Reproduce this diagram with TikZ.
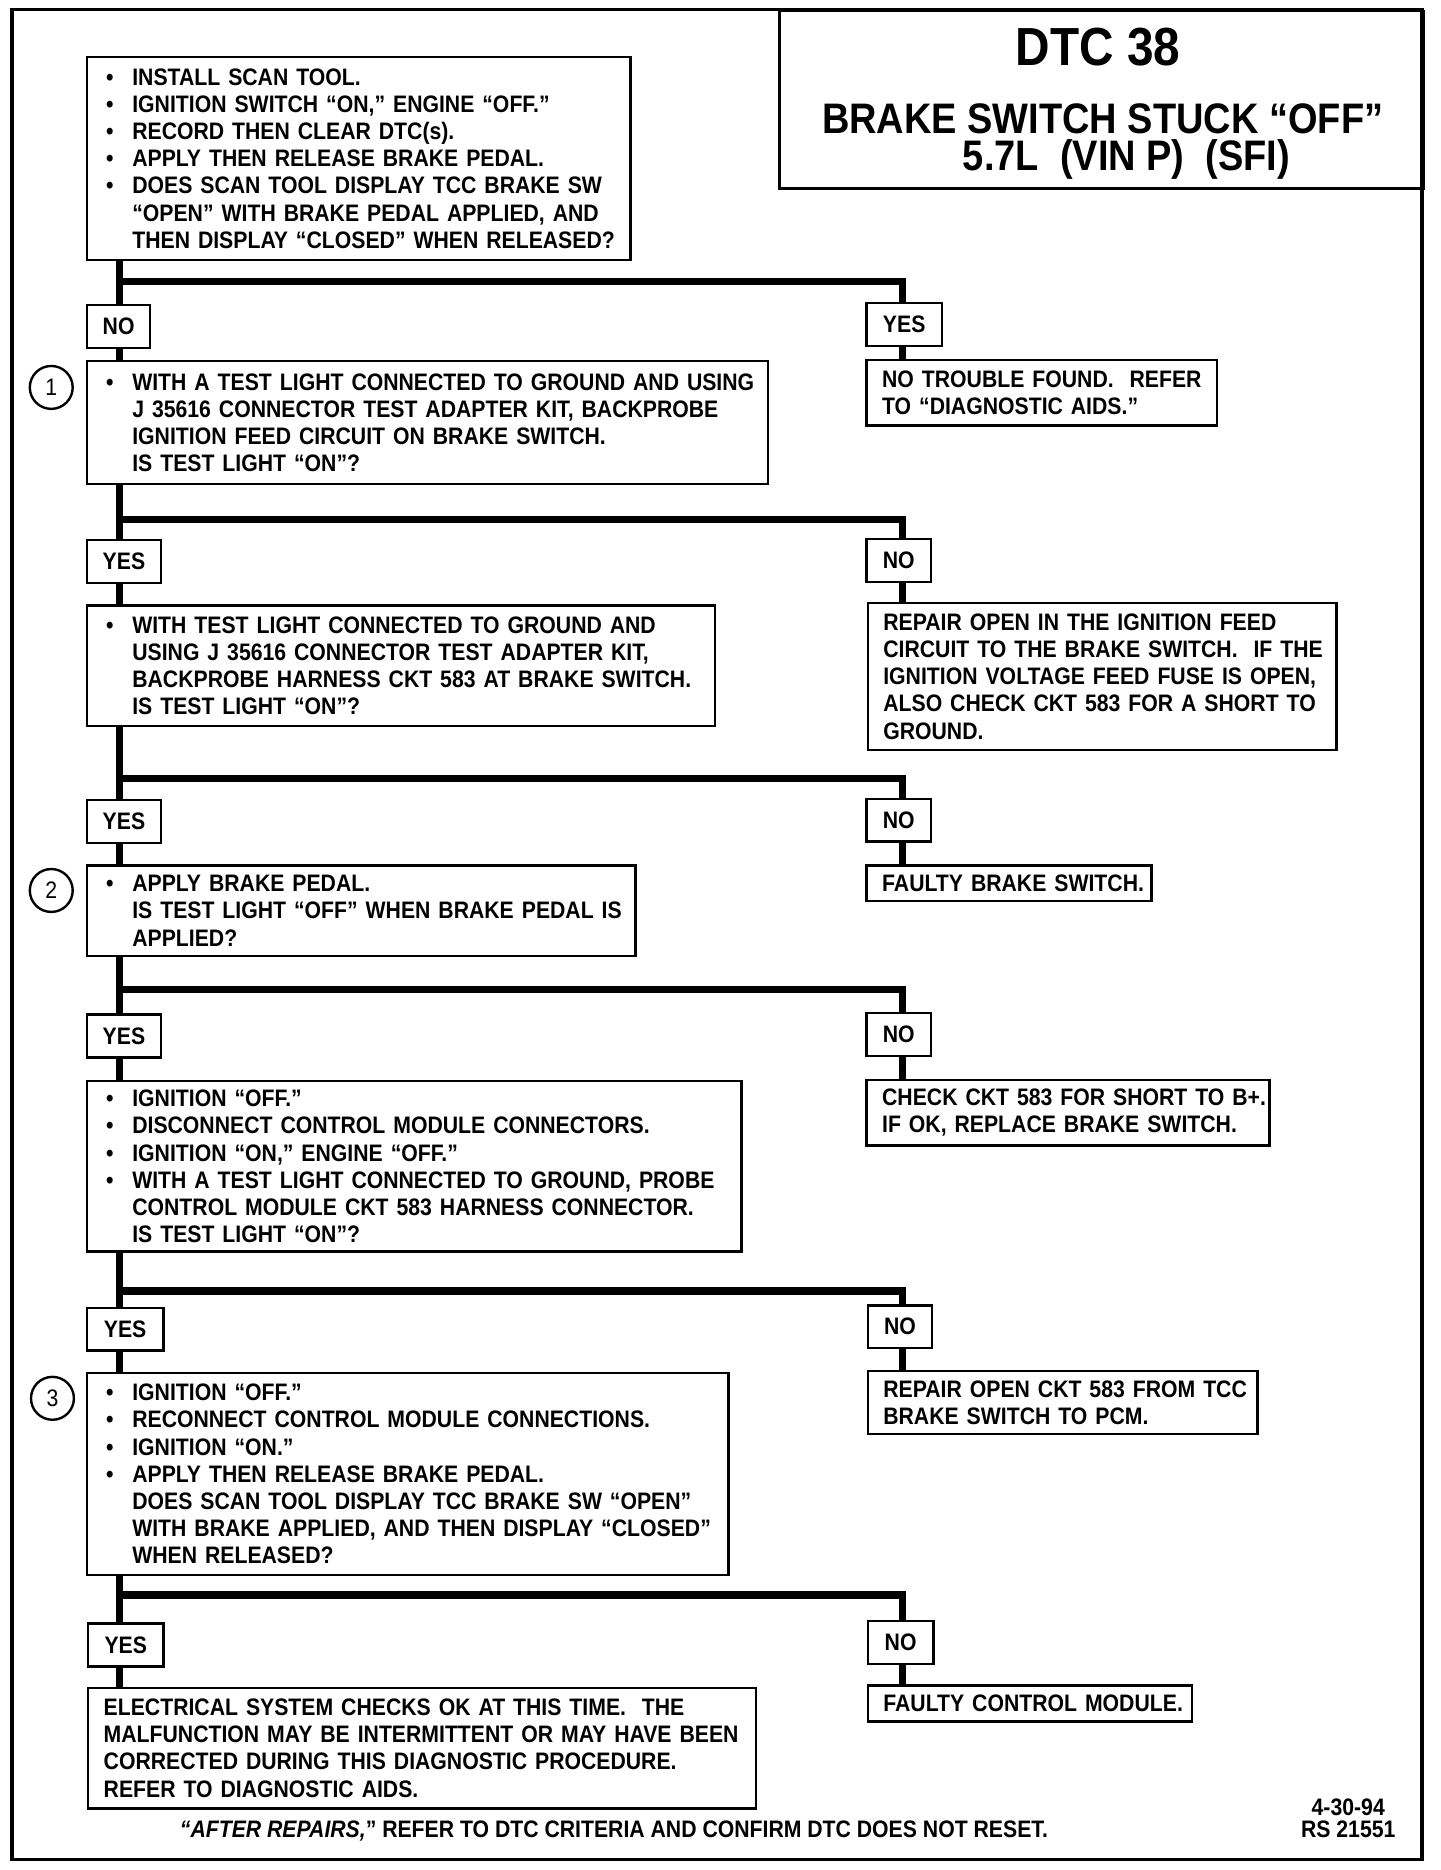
\documentclass[tikz,border=0pt]{standalone}
\usepackage{fontspec}
\setmainfont{Liberation Sans}[FakeStretch=0.89]
\usetikzlibrary{positioning, calc}

\newcommand{\bul}{\makebox[11pt][l]{\textbullet}}
\newcommand{\ind}{\hspace*{11pt}}

\begin{document}
\begin{tikzpicture}[x=0.5pt, y=-0.5pt,
  txt/.style={font=\fontsize{10}{11.4}\selectfont\bfseries},
  qbox/.style={txt, draw, line width=1pt, fill=white, anchor=north west, align=left, inner xsep=8pt, inner ysep=0pt,
    execute at begin node={\hyphenpenalty=10000\rightskip=0pt minus 60pt\relax}},
  abox/.style={qbox, inner xsep=6.5pt},
  lbl/.style={txt, draw, line width=1pt, fill=white, anchor=north west, inner sep=0pt, minimum height=18pt},
  trunk/.style={line width=3pt},
  head/.style={anchor=base, inner sep=0pt, text height=13pt, text depth=0pt},
  stepno/.style={circle, draw, line width=1pt, minimum size=18pt, inner sep=0pt, font=\fontsize{10}{10}\selectfont}]

\useasboundingbox (0,0) rectangle (1208,1568.7);
\draw[line width=1.5pt] (10,8) rectangle (1193,1560);

% title block
\node[draw, line width=1pt, anchor=north west, minimum width=270pt, minimum height=74.5pt, inner sep=0pt] (title) at (653,8) {};
\node[head, text height=16pt, font=\fontsize{22.5}{22.5}\selectfont\bfseries] (dtc) at (921,55) {DTC 38};
\node[head, font=\fontsize{17.9}{17.9}\selectfont\bfseries] (sub1) at (925,112) {BRAKE SWITCH STUCK “OFF”};
\node[head, font=\fontsize{17.9}{17.9}\selectfont\bfseries] (sub2) at (945,143) {5.7L\ \ (VIN P)\ \ (SFI)};

% left column
\node[qbox, text width=212pt, minimum height=85pt] (start) at (72,47) {\bul INSTALL SCAN TOOL.\\
\bul IGNITION SWITCH “ON,” ENGINE “OFF.”\\
\bul RECORD THEN CLEAR DTC(s).\\
\bul APPLY THEN RELEASE BRAKE PEDAL.\\
\bul DOES SCAN TOOL DISPLAY TCC BRAKE SW\\
\ind “OPEN” WITH BRAKE PEDAL APPLIED, AND\\
\ind THEN DISPLAY “CLOSED” WHEN RELEASED?};
\node[lbl, minimum width=26.5pt] (no0) at (72,255) {NO};
\node[qbox, text width=269.5pt, minimum height=51.5pt] (q1) at (72,302) {\bul WITH A TEST LIGHT CONNECTED TO GROUND AND USING\\
\ind J 35616 CONNECTOR TEST ADAPTER KIT, BACKPROBE\\
\ind IGNITION FEED CIRCUIT ON BRAKE SWITCH.\\
\ind IS TEST LIGHT “ON”?};
\node[lbl, minimum width=31pt] (yes1) at (72,452) {YES};
\node[qbox, text width=247.5pt, minimum height=50.5pt] (q2) at (72,507) {\bul WITH TEST LIGHT CONNECTED TO GROUND AND\\
\ind USING J 35616 CONNECTOR TEST ADAPTER KIT,\\
\ind BACKPROBE HARNESS CKT 583 AT BRAKE SWITCH.\\
\ind IS TEST LIGHT “ON”?};
\node[lbl, minimum width=31pt] (yes2) at (72,670) {YES};
\node[qbox, text width=214pt, minimum height=38pt] (q3) at (72,725) {\bul APPLY BRAKE PEDAL.\\
\ind IS TEST LIGHT “OFF” WHEN BRAKE PEDAL IS\\
\ind APPLIED?};
\node[lbl, minimum width=31pt] (yes3) at (72,850) {YES};
\node[qbox, text width=258.5pt, minimum height=71.5pt] (q4) at (72,906) {\bul IGNITION “OFF.”\\
\bul DISCONNECT CONTROL MODULE CONNECTORS.\\
\bul IGNITION “ON,” ENGINE “OFF.”\\
\bul WITH A TEST LIGHT CONNECTED TO GROUND, PROBE\\
\ind CONTROL MODULE CKT 583 HARNESS CONNECTOR.\\
\ind IS TEST LIGHT “ON”?};
\node[lbl, minimum width=32pt] (yes4) at (72,1096) {YES};
\node[qbox, text width=253pt, minimum height=84.5pt] (q5) at (72,1151) {\bul IGNITION “OFF.”\\
\bul RECONNECT CONTROL MODULE CONNECTIONS.\\
\bul IGNITION “ON.”\\
\bul APPLY THEN RELEASE BRAKE PEDAL.\\
\ind DOES SCAN TOOL DISPLAY TCC BRAKE SW “OPEN”\\
\ind WITH BRAKE APPLIED, AND THEN DISPLAY “CLOSED”\\
\ind WHEN RELEASED?};
\node[lbl, minimum width=31.5pt] (yes5) at (73,1361) {YES};
\node[abox, text width=267pt, minimum height=50.5pt] (ok) at (73,1415) {ELECTRICAL SYSTEM CHECKS OK AT THIS TIME.\ \ THE\\
MALFUNCTION MAY BE INTERMITTENT OR MAY HAVE BEEN\\
CORRECTED DURING THIS DIAGNOSTIC PROCEDURE.\\
REFER TO DIAGNOSTIC AIDS.};

% step numbers
\node[stepno] (s1) at (43,325) {1};
\node[stepno] (s2) at (43,747) {2};
\node[stepno] (s3) at (44,1173) {3};

% right column
\node[lbl, minimum width=31.5pt] (yes0) at (726,253) {YES};
\node[abox, text width=134pt, minimum height=27.5pt] (ntf) at (726,301) {NO TROUBLE FOUND.\ \ REFER\\
TO “DIAGNOSTIC AIDS.”};
\node[lbl, minimum width=27pt] (no1) at (726,451) {NO};
\node[abox, text width=183.5pt, minimum height=61.5pt] (rfeed) at (727,505) {REPAIR OPEN IN THE IGNITION FEED\\
CIRCUIT TO THE BRAKE SWITCH.\ \ IF THE\\
IGNITION VOLTAGE FEED FUSE IS OPEN,\\
ALSO CHECK CKT 583 FOR A SHORT TO\\
GROUND.};
\node[lbl, minimum width=27pt] (no2) at (726,669) {NO};
\node[abox, text width=106.5pt, minimum height=15pt] (fsw) at (726,725) {FAULTY BRAKE SWITCH.};
\node[lbl, minimum width=27pt] (no3) at (726,849) {NO};
\node[abox, text width=156pt, minimum height=27.5pt] (chk) at (726,905) {CHECK CKT 583 FOR SHORT TO B+.\\
IF OK, REPLACE BRAKE SWITCH.};
\node[lbl, minimum width=27pt] (no4) at (727,1094) {NO};
\node[abox, text width=150.5pt, minimum height=26.5pt] (rckt) at (727,1149) {REPAIR OPEN CKT 583 FROM TCC\\
BRAKE SWITCH TO PCM.};
\node[lbl, minimum width=27.5pt] (no5) at (727,1359) {NO};
\node[abox, text width=123pt, minimum height=15pt] (fcm) at (727,1413) {FAULTY CONTROL MODULE.};

% branch points
\coordinate (l1) at (100,236);  \coordinate (r1) at (757,236);
\coordinate (l2) at (100,436);  \coordinate (r2) at (757,436);
\coordinate (l3) at (100,653);  \coordinate (r3) at (757,653);
\coordinate (l4) at (100,830);  \coordinate (r4) at (757,830);
\coordinate (l5) at (100,1083); \coordinate (r5) at (757,1083);
\coordinate (l6) at (100,1338); \coordinate (r6) at (757,1338);

\draw[trunk] (start.south -| l1) -- (no0.north -| l1) (no0.south -| l1) -- (q1.north -| l1);
\draw[trunk] (l1) -- (r1) -- (yes0.north -| r1) (yes0.south -| r1) -- (ntf.north -| r1);
\draw[trunk] (q1.south -| l2) -- (yes1.north -| l2) (yes1.south -| l2) -- (q2.north -| l2);
\draw[trunk] (l2) -- (r2) -- (no1.north -| r2) (no1.south -| r2) -- (rfeed.north -| r2);
\draw[trunk] (q2.south -| l3) -- (yes2.north -| l3) (yes2.south -| l3) -- (q3.north -| l3);
\draw[trunk] (l3) -- (r3) -- (no2.north -| r3) (no2.south -| r3) -- (fsw.north -| r3);
\draw[trunk] (q3.south -| l4) -- (yes3.north -| l4) (yes3.south -| l4) -- (q4.north -| l4);
\draw[trunk] (l4) -- (r4) -- (no3.north -| r4) (no3.south -| r4) -- (chk.north -| r4);
\draw[trunk] (q4.south -| l5) -- (yes4.north -| l5) (yes4.south -| l5) -- (q5.north -| l5);
\draw[trunk] (l5) -- (r5) -- (no4.north -| r5) (no4.south -| r5) -- (rckt.north -| r5);
\draw[trunk] (q5.south -| l6) -- (yes5.north -| l6) (yes5.south -| l6) -- (ok.north -| l6);
\draw[trunk] (l6) -- (r6) -- (no5.north -| r6) (no5.south -| r6) -- (fcm.north -| r6);

% footer
\node[txt, anchor=base] (foot) at (515,1541) {\textit{“AFTER REPAIRS,}” REFER TO DTC CRITERIA AND CONFIRM DTC DOES NOT RESET.};
\node[txt, anchor=base] (date) at (1131,1523) {4-30-94};
\node[txt, anchor=base] (rsno) at (1131,1541) {RS 21551};
\end{tikzpicture}
\end{document}
